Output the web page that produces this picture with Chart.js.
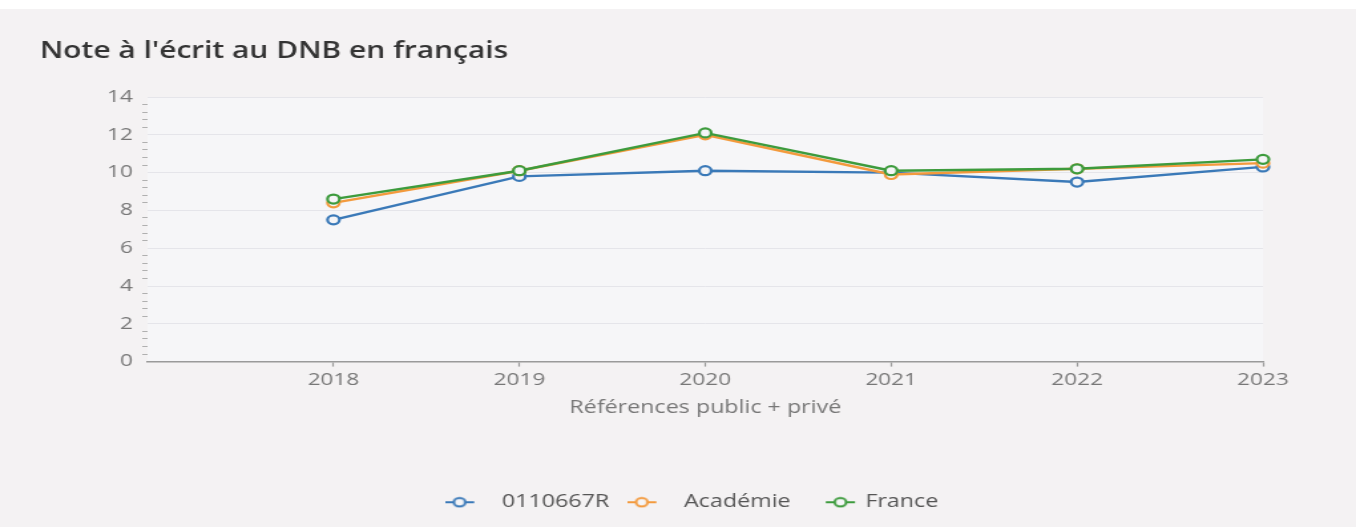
<!DOCTYPE html>
<html>
<head>
<meta charset="utf-8">
<script src="https://cdn.jsdelivr.net/npm/chart.js@4/dist/chart.umd.min.js"></script>
<style>
html, body { margin: 0; padding: 0; overflow: hidden; }
body { background: linear-gradient(#ffffff 0, #ffffff 9px, #f4f2f3 9px); width: 1356px; height: 527px; }
#wrap { width: 1020px; height: 527px; transform: scaleX(1.329412); transform-origin: 0 0; }
canvas { display: block; }
</style>
</head>
<body>
<div id="wrap"><canvas id="c" width="1020" height="527"></canvas></div>
<script>
// ---- data ----
const years = [2018, 2019, 2020, 2021, 2022, 2023];
const etablissement = [7.5, 9.8, 10.1, 10.0, 9.5, 10.3];
const academie = [8.4, 10.1, 12.0, 9.9, 10.2, 10.5];
const france = [8.6, 10.1, 12.1, 10.1, 10.2, 10.7];
const seriesNames = ['0110667R', 'Académie', 'France'];
const yTickLabels = [0, 2, 4, 6, 8, 10, 12, 14];
const chartTitle = "Note à l'écrit au DNB en français";
const xTitle = 'Références public + privé';

// ---- styles ----
const colors = ['#3a79b8', '#f39a3d', '#3d9b3d'];
const markerFill = '#f5f5f7';

Chart.defaults.font.family = "'Open Sans', 'Noto Sans', sans-serif";

function isMajor(v) { return yTickLabels.some(t => Math.abs(t - v) < 1e-6); }

// legend icon: short line with a hollow circle; offset = position of the symbol inside the image
function makeIcon(color, width, offset) {
  const c = document.createElement('canvas');
  c.width = width; c.height = 12;
  const g = c.getContext('2d');
  g.strokeStyle = color; g.lineWidth = 2;
  g.beginPath(); g.moveTo(offset, 6); g.lineTo(offset + 22, 6); g.stroke();
  g.beginPath(); g.arc(offset + 11, 6, 4.3, 0, Math.PI * 2);
  g.fillStyle = markerFill; g.fill(); g.stroke();
  return c;
}
const icons = [makeIcon(colors[0], 34, 0), makeIcon(colors[1], 34, 0), makeIcon(colors[2], 40, 16)];

const seriesValues = [etablissement, academie, france];
const datasets = seriesValues.map((vals, i) => ({
  label: seriesNames[i],
  data: years.map((yr, j) => ({ x: yr, y: vals[j] })),
  borderColor: colors[i],
  backgroundColor: markerFill,
  borderWidth: 2.4,
  pointRadius: 4.5,
  pointBorderWidth: 2.2,
  pointBackgroundColor: markerFill,
  pointBorderColor: colors[i],
  tension: 0,
  clip: false,
  order: seriesValues.length - 1 - i
}));

const plotBg = {
  id: 'plotBg',
  beforeDraw(chart) {
    const { ctx, chartArea: a } = chart;
    ctx.save();
    ctx.fillStyle = '#f6f6f8';
    ctx.fillRect(a.left, a.top, a.right - a.left, a.bottom - a.top);
    ctx.restore();
  }
};

new Chart(document.getElementById('c'), {
  type: 'line',
  data: { datasets },
  plugins: [plotBg],
  options: {
    responsive: false,
    maintainAspectRatio: false,
    devicePixelRatio: 1,
    animation: false,
    layout: { padding: { left: 30, right: 9.6, top: 0, bottom: 6 } },
    plugins: {
      tooltip: { enabled: false },
      title: {
        display: true, text: chartTitle, align: 'start', color: '#333333',
        font: { size: 22.5, weight: '600' }, padding: { top: 38.5, bottom: 31.5 }
      },
      legend: {
        position: 'bottom',
        labels: {
          usePointStyle: true, pointStyleWidth: 34, boxHeight: 12, padding: 13.5,
          color: '#555555', font: { size: 17.5 },
          generateLabels: chart => chart.data.datasets.map((ds, i) => ({
            text: ds.label, fillStyle: markerFill, strokeStyle: colors[i], lineWidth: 0,
            pointStyle: icons[i], datasetIndex: i, hidden: false, fontColor: '#555555'
          }))
        }
      }
    },
    scales: {
      x: {
        type: 'linear', min: years[0] - 1, max: years[years.length - 1],
        border: { display: true, color: '#9a9a9a', width: 1.5 },
        grid: {
          drawOnChartArea: false, tickLength: 5, tickWidth: 1.2,
          tickColor: ctx => (ctx.tick && years.includes(ctx.tick.value)) ? '#9a9a9a' : 'transparent'
        },
        ticks: {
          stepSize: 1, autoSkip: false, maxRotation: 0, padding: 3, color: '#777777', font: { size: 17 },
          callback: v => years.includes(v) ? String(v) : ''
        },
        title: { display: true, text: xTitle, color: '#777777', font: { size: 17.5 }, padding: { top: 5, bottom: 61 } }
      },
      y: {
        position: 'left', min: yTickLabels[0], max: yTickLabels[yTickLabels.length - 1],
        afterFit(s) { s.width = 81; },
        border: { display: false },
        grid: {
          color: ctx => (ctx.tick && isMajor(ctx.tick.value)) ? '#e5e5ea' : 'transparent',
          tickColor: ctx => (ctx.tick && isMajor(ctx.tick.value)) ? 'transparent' : '#b0b0b0',
          tickLength: 4, lineWidth: 1, tickWidth: 1
        },
        ticks: {
          stepSize: 0.4, autoSkip: false, padding: 7, color: '#777777', font: { size: 17 },
          callback: v => isMajor(v) ? String(Math.round(v)) : ''
        }
      },
      yR: {
        position: 'right', display: true,
        afterFit(s) { s.width = 60.4; },
        border: { display: false }, grid: { display: false }, ticks: { display: false }
      }
    }
  }
});
</script>
</body>
</html>
